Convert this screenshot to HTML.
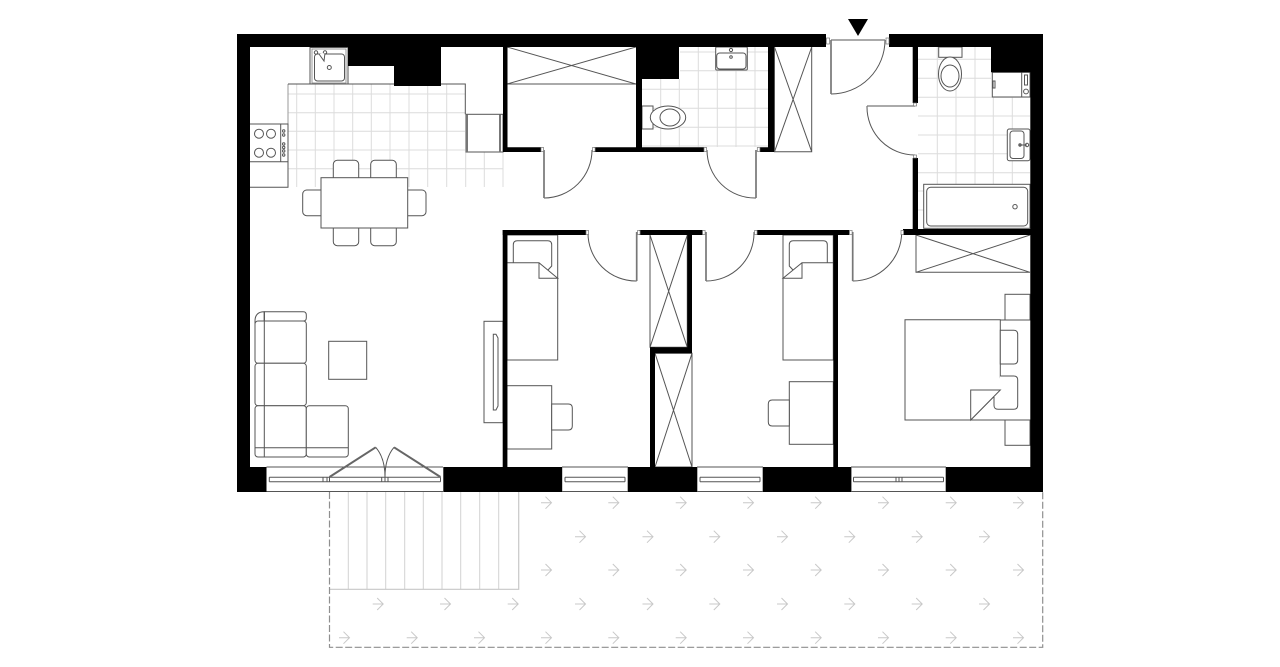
<!DOCTYPE html>
<html><head><meta charset="utf-8"><style>html,body{margin:0;padding:0;background:#fff}svg{display:block}</style></head>
<body>
<svg width="1280" height="667" viewBox="0 0 1280 667" xmlns="http://www.w3.org/2000/svg">
<defs><g id="a" fill="none" stroke="#c8c8c8" stroke-width="1"><path d="M-5 0H5.5M-.5-6 5.5 0-.5 6"/></g></defs>
<rect width="1280" height="667" fill="#fff"/>
<!-- tiles -->
<g fill="none" stroke="#dcdcdc" stroke-width="1">
<path d="M296.7 84V187M315.3 84V187M334 84V187M352.7 84V187M371.3 84V187M390 84V187M409 84V187M427.7 84V187M446.7 84V187M465.7 152V187M484.3 152V187M503 152V187"/>
<path d="M288 94H465M288 112.7H465M288 131.3H465M288 150H465M288 168.7H503"/>
<path d="M660.7 60V147M679.3 79V147M698.3 47V147M717.3 47V147M736 47V147M755 47V147"/>
<path d="M680 52H768M680 70.7H768M642 89.3H768M642 108.3H768M642 127.3H768M642 146H768"/>
<path d="M937.3 47V229M956 47V229M975 47V229M993.3 97V185M1012.3 97V185"/>
<path d="M918 59.3H991M918 78.3H991M918 97.3H1030M918 116H1030M918 135H1030M918 153.7H1030M918 172.7H1030M918 191H924M918 210H924"/>
</g>
<!-- furniture -->
<g fill="#fff" stroke="#555" stroke-width="1">
<!-- kitchen -->
<path fill="none" stroke="#999" d="M288 84V124"/>
<path fill="none" d="M288 84H465.3V114.3M250 124H288V187.3H250M250 161.7H288M280.7 124V161.7"/>
<rect x="310" y="47.5" width="38" height="36.5"/>
<rect x="312" y="49" width="34" height="34" stroke="#999"/>
<rect x="314.5" y="54" width="30" height="27" rx="3"/>
<circle cx="329.3" cy="67.5" r="2"/><circle cx="316" cy="52.5" r="1.7"/><circle cx="325" cy="52.5" r="1.7"/>
<path d="M319 54 324 61 325 53"/>
<circle cx="259" cy="133.7" r="4.5"/><circle cx="271" cy="133.7" r="4.5"/><circle cx="259" cy="152.7" r="4.5"/><circle cx="271" cy="152.7" r="4.5"/>
<circle cx="283.7" cy="131" r="1.2"/><circle cx="283.7" cy="135" r="1.2"/><circle cx="283.7" cy="144" r="1.2"/><circle cx="283.7" cy="147.5" r="1.2"/><circle cx="283.7" cy="151" r="1.2"/><circle cx="283.7" cy="155" r="1.2"/>
<rect x="466" y="114.3" width="37" height="37.7"/>
<path fill="none" stroke-width="2" stroke="#777" d="M467 114.5V152M500 114.5V152"/>
<!-- dining -->
<rect x="333.3" y="160.3" width="25.4" height="25" rx="4"/><rect x="370.7" y="160.3" width="25.6" height="25" rx="4"/>
<rect x="333.3" y="220" width="25.4" height="25.7" rx="4"/><rect x="370.7" y="220" width="25.6" height="25.7" rx="4"/>
<rect x="302.7" y="190" width="26" height="25.7" rx="4"/><rect x="400" y="190" width="26" height="25.7" rx="4"/>
<rect x="321" y="177.7" width="86.7" height="50.3"/>
<!-- closet 1 -->
<path fill="none" d="M507 84H636M507 47 636 84M636 47 507 84"/>
<!-- toilet 1 -->
<rect x="642" y="106" width="11" height="23"/>
<ellipse cx="668" cy="117.5" rx="17.7" ry="11.5"/><ellipse cx="670" cy="117.5" rx="10" ry="8.5"/>
<!-- sink 1 -->
<rect x="715.7" y="47" width="31.6" height="23" rx="1"/><rect x="716.7" y="53" width="29.3" height="16" rx="3"/>
<circle cx="731" cy="50" r="1.6"/><circle cx="731" cy="57" r="1.3"/>
<!-- closet 2 -->
<path fill="none" d="M774.5 47V151.7H811.7V47M774.5 47 811.7 151.7M811.7 47 774.5 151.7"/>
<!-- bath -->
<rect x="938.7" y="47" width="23.3" height="10.3"/>
<ellipse cx="950" cy="74" rx="11.5" ry="17"/><ellipse cx="950" cy="76" rx="9" ry="11"/>
<rect x="992.3" y="72.3" width="37.7" height="24.7"/><path fill="none" d="M1021.7 72.3V97"/><rect x="993" y="81" width="2" height="7"/>
<rect x="1024.5" y="75" width="3" height="10"/><circle cx="1026" cy="91.5" r="2.4"/>
<rect x="1007.3" y="129" width="22.7" height="31.7" rx="2"/><rect x="1010" y="131" width="14" height="27.5" rx="3"/>
<circle cx="1020" cy="145" r="1.2"/><circle cx="1027" cy="145" r="1.7"/><path fill="none" d="M1019 145H1027"/>
<rect x="923.7" y="184.3" width="106.3" height="44"/><rect x="926.7" y="187.3" width="101" height="38.7" rx="4"/>
<circle cx="1015" cy="206.7" r="2.2"/>
<!-- bedroom closet -->
<path fill="none" d="M916 235V272.3H1030M916 235 1030 272.3M1030 235 916 272.3"/>
<!-- bed 1 -->
<rect x="507" y="235" width="50.7" height="125"/>
<path d="M513.3 262.7V244.7Q513.3 240.7 517.3 240.7H547.7Q551.7 240.7 551.7 244.7V266L548 270"/>
<path d="M507 262.7H539L557.7 278.3H539V262.7"/>
<rect x="507" y="385.7" width="44.7" height="63.3"/>
<path d="M551.7 404H568.3Q572.3 404 572.3 408V426Q572.3 430 568.3 430H551.7Z"/>
<!-- closets mid -->
<path fill="none" d="M650 235V347.3H687.3V235M650 235 687.3 347.3M687.3 235 650 347.3"/>
<path fill="none" d="M655 353.3H692V467H655M655 353.3 692 467M692 353.3 655 467"/>
<!-- bed 2 -->
<rect x="783" y="235" width="50.3" height="125"/>
<path d="M827.3 262.7V244.7Q827.3 240.7 823.3 240.7H793.3Q789.3 240.7 789.3 244.7V266L793 270"/>
<path d="M833 262.7H802L783 278.3H802V262.7"/>
<rect x="789.3" y="381.7" width="44" height="62.6"/>
<path d="M789.3 400H772.3Q768.3 400 768.3 404V422Q768.3 426 772.3 426H789.3Z"/>
<!-- double bed -->
<rect x="1005" y="294.3" width="25" height="25.7"/><rect x="1005" y="420" width="25" height="25.3"/>
<path fill="none" d="M1000 320H1030M970.7 420H1030"/>
<path d="M905 319.7H1000.3V390L970.7 420H905Z"/>
<path d="M1000.3 330.3H1013.7Q1017.7 330.3 1017.7 334.3V360Q1017.7 364 1013.7 364H1000.3Z"/>
<path d="M1000.3 376H1013.7Q1017.7 376 1017.7 380V405.3Q1017.7 409.3 1013.7 409.3H998Q994 409.3 994 405.3V397"/>
<path d="M1000.3 390H970.7V420Z"/>
<!-- sofa -->
<path d="M264.3 311.7H303.3Q306.3 311.7 306.3 315V318Q306.3 321 303.3 321H264.3Z"/>
<path d="M264.3 311.7Q255 311.7 255 321V324H264.3Z" fill="none"/>
<rect x="255" y="321" width="51.3" height="42.3" rx="3"/>
<rect x="255" y="363.3" width="51.3" height="42.4" rx="3"/>
<rect x="255" y="405.7" width="51.3" height="51.3" rx="3"/>
<rect x="306.3" y="405.7" width="42" height="51.3" rx="3"/>
<path fill="none" d="M264.3 311.7V457M255 447.7H348"/>
<rect x="328.7" y="341.3" width="38" height="38"/>
<!-- TV -->
<rect x="484" y="321.3" width="19" height="101.4"/>
<path d="M493.3 334.3H496L498 338V406L496 410H493.3Z"/>
</g>
<!-- walls -->
<g fill="#000">
<path d="M237 34H826V47H441V86H394V66H348V47H250V467H266.5V492H237Z"/>
<path d="M889 34H1043V492H945.7V467H1030.3V72.3H991V47H889Z"/>
<rect x="503" y="47" width="4.5" height="105"/>
<path d="M503 147.3H541V152H503ZM594 147.3H704V152H594Z"/>
<rect x="636" y="47" width="6" height="103"/>
<path d="M636 47H679V79H636Z"/>
<path d="M768 47H774V152H760V147.3H768Z"/>
<rect x="912.7" y="47" width="5.3" height="56"/>
<rect x="912.7" y="158" width="5.3" height="75"/>
<rect x="903" y="229" width="127.5" height="6"/>
<rect x="502.7" y="230" width="83.3" height="5"/>
<rect x="639" y="230" width="63.7" height="5"/>
<rect x="756.7" y="230" width="92.6" height="5"/>
<rect x="502.7" y="230" width="4.7" height="238"/>
<rect x="833.3" y="230" width="4.7" height="238"/>
<rect x="687.3" y="232" width="4.7" height="120"/>
<rect x="650" y="347.3" width="42" height="6"/>
<rect x="650" y="347.3" width="5" height="121"/>
<rect x="443.3" y="467" width="118.9" height="25"/>
<rect x="627.7" y="467" width="69.6" height="25"/>
<rect x="762.7" y="467" width="88.7" height="25"/>
<rect x="250" y="467" width="16.5" height="25"/>
<path d="M848 19H868L858 36Z"/>
</g>
<!-- windows -->
<g fill="none" stroke="#555" stroke-width="1">
<path d="M266.5 467H443M266.5 491.5H443M269.3 477.3H440.5M269.3 481.7H440.5M269.3 477.3V481.7M323 477.3V481.7M327 477.3V481.7M329.5 477.3V481.7M381.7 477.3V481.7M385 477.3V481.7M388 477.3V481.7M440.5 477.3V481.7"/>
<path d="M562 467H628M562 491.5H628M565 477.3H625M565 481.7H625M565 477.3V481.7M625 477.3V481.7"/>
<path d="M697 467H763M697 491.5H763M700 477.3H760M700 481.7H760M700 477.3V481.7M760 477.3V481.7"/>
<path d="M851 467H946M851 491.5H946M853.5 477.3H943.5M853.5 481.7H943.5M853.5 477.3V481.7M943.5 477.3V481.7M896 477.3V481.7M899 477.3V481.7M902 477.3V481.7"/>
<!-- balcony door -->
<path stroke-width="2" stroke="#666" d="M329.5 477 375.7 447.3M440.5 477 394 447.3"/>
<path d="M375.7 447.3Q385 458 385 477M394 447.3Q385 458 385 477"/>
<!-- doors -->
<path d="M544 198A48 48 0 0 0 592 150"/>
<path d="M756 198A48 48 0 0 1 707 150"/>
<path d="M831 94A54 54 0 0 0 885 40"/>
<path d="M867 106A48 48 0 0 0 915 155"/>
<path d="M636.7 281A48 48 0 0 1 588 232"/>
<path d="M706 281A48 48 0 0 0 754 232"/>
<path d="M852.7 281A49 49 0 0 0 901.7 232"/>
<path stroke="#777" stroke-width="1.7" d="M544 150V198M756 150V198M831 40V94M706 232V281M636.7 232V281M852.7 232V281"/>
<path stroke="#777" stroke-width="1.2" d="M831 40H885M867 106H915"/>
</g>
<!-- hinges -->
<g fill="#fff" stroke="#777" stroke-width=".7">
<rect x="541" y="147.5" width="2.6" height="4"/><rect x="592.5" y="147.5" width="2.6" height="4"/>
<rect x="704" y="147.5" width="2.6" height="4"/><rect x="757.3" y="147.5" width="2.6" height="4"/>
<rect x="826.5" y="38" width="3" height="6"/><rect x="886" y="38" width="3" height="6"/>
<rect x="913.5" y="103" width="3" height="3"/><rect x="913.5" y="155" width="3" height="3"/>
<rect x="586" y="230.5" width="2.6" height="4"/><rect x="637.5" y="230.5" width="2.6" height="4"/>
<rect x="702.5" y="230.5" width="2.6" height="4"/><rect x="754.5" y="230.5" width="2.6" height="4"/>
<rect x="849.5" y="230.5" width="2.6" height="4"/><rect x="901" y="230.5" width="2.6" height="4"/>
</g>
<!-- terrace -->
<g fill="none">
<path stroke="#d2d2d2" d="M348.3 492V589.3M367 492V589.3M385.7 492V589.3M404.7 492V589.3M423.3 492V589.3M442 492V589.3M460.7 492V589.3M479.7 492V589.3M498.7 492V589.3"/>
<path stroke="#c8c8c8" stroke-width="1.2" d="M518.7 492V589.3H329.5"/>
<path stroke="#8f8f8f" stroke-width="1.2" stroke-dasharray="7 2.5" d="M329.5 492V647.3H1042.7V492"/>
</g>
<use href="#a" x="546" y="502.7"/><use href="#a" x="613.3" y="502.7"/><use href="#a" x="680.7" y="502.7"/><use href="#a" x="748" y="502.7"/><use href="#a" x="815.7" y="502.7"/><use href="#a" x="883" y="502.7"/><use href="#a" x="950.7" y="502.7"/><use href="#a" x="1018" y="502.7"/>
<use href="#a" x="580" y="536.7"/><use href="#a" x="647.5" y="536.7"/><use href="#a" x="714.3" y="536.7"/><use href="#a" x="782" y="536.7"/><use href="#a" x="849.3" y="536.7"/><use href="#a" x="916.7" y="536.7"/><use href="#a" x="984" y="536.7"/>
<use href="#a" x="546" y="570"/><use href="#a" x="613.3" y="570"/><use href="#a" x="680.7" y="570"/><use href="#a" x="748" y="570"/><use href="#a" x="815.7" y="570"/><use href="#a" x="883" y="570"/><use href="#a" x="950.7" y="570"/><use href="#a" x="1018" y="570"/>
<use href="#a" x="377.7" y="604"/><use href="#a" x="445" y="604"/><use href="#a" x="512.7" y="604"/><use href="#a" x="580" y="604"/><use href="#a" x="647.5" y="604"/><use href="#a" x="714.3" y="604"/><use href="#a" x="782" y="604"/><use href="#a" x="849.3" y="604"/><use href="#a" x="916.7" y="604"/><use href="#a" x="984" y="604"/>
<use href="#a" x="344" y="637.7"/><use href="#a" x="411.7" y="637.7"/><use href="#a" x="479" y="637.7"/><use href="#a" x="546" y="637.7"/><use href="#a" x="613.3" y="637.7"/><use href="#a" x="680.7" y="637.7"/><use href="#a" x="748" y="637.7"/><use href="#a" x="815.7" y="637.7"/><use href="#a" x="883" y="637.7"/><use href="#a" x="950.7" y="637.7"/><use href="#a" x="1018" y="637.7"/>
</svg>
</body></html>
